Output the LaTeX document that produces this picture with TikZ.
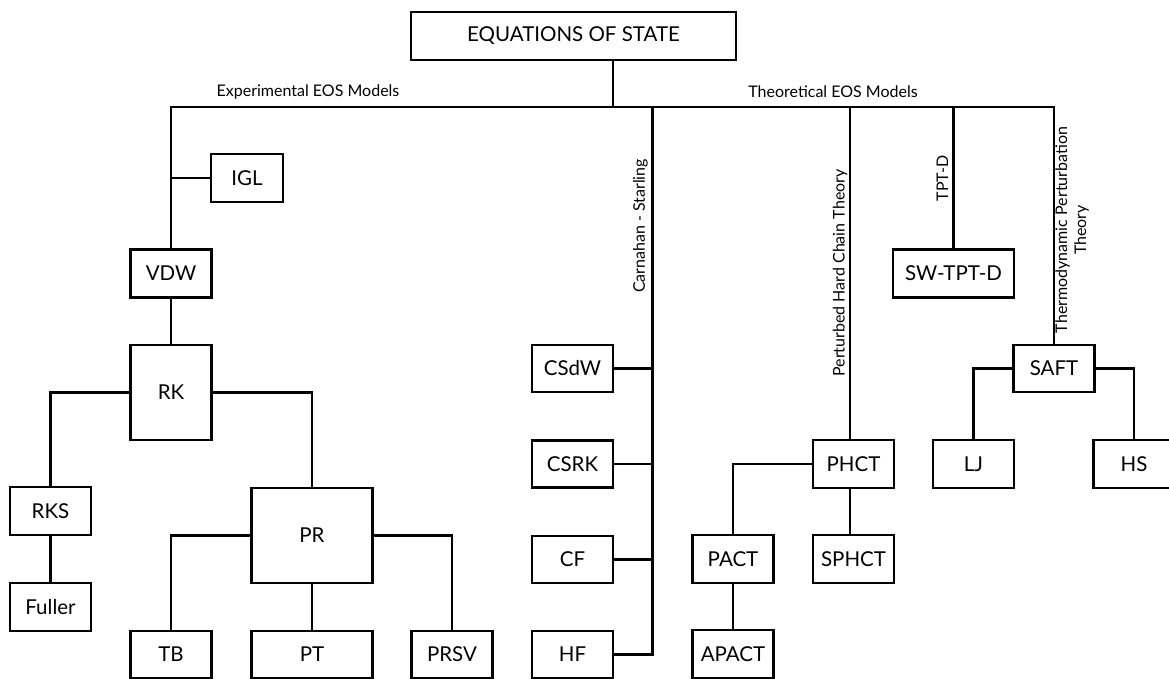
\documentclass[tikz,border=0pt]{standalone}
\usepackage{fontspec}
\setmainfont{Lato}
\begin{document}
\begin{tikzpicture}[x=1pt,y=-1pt,
  lw/.style={line width=2.6pt},
  box/.style={draw,lw,rectangle,inner sep=0pt,minimum height=47pt,minimum width=81pt,font=\fontsize{20.5}{24}\selectfont},
  tall/.style={minimum height=95pt},
  wide/.style={minimum width=121pt},
  lab/.style={inner sep=0pt,font=\fontsize{16}{19}\selectfont},
  conn/.style={lw}]
\useasboundingbox (0,0) rectangle (1169,679);
% nodes
\node[box,minimum width=325pt,minimum height=48pt] (top) at (573.5,36) {EQUATIONS OF STATE};
\node[box,minimum width=72pt,minimum height=48pt] (IGL) at (247,178) {IGL};
\node[box,minimum height=48pt] (VDW) at (171,273.5) {VDW};
\node[box,tall] (RK) at (171,392.5) {RK};
\node[box,minimum height=48pt] (RKS) at (50.5,511) {RKS};
\node[box,minimum height=48pt] (Fuller) at (50.5,607) {Fuller};
\node[box,tall,wide] (PR) at (312,535.5) {PR};
\node[box] (TB) at (171,654.5) {TB};
\node[box,wide] (PT) at (312,654.5) {PT};
\node[box] (PRSV) at (452,654.5) {PRSV};
\node[box] (CSdW) at (572.5,368.5) {CSdW};
\node[box] (CSRK) at (572.5,464) {CSRK};
\node[box] (CF) at (572.5,559.5) {CF};
\node[box] (HF) at (572.5,654.5) {HF};
\node[box,minimum height=48pt] (PHCT) at (853.5,464) {PHCT};
\node[box,minimum height=48pt] (PACT) at (733,559) {PACT};
\node[box,minimum height=48pt] (APACT) at (733,654) {APACT};
\node[box,minimum height=48pt] (SPHCT) at (853.5,559) {SPHCT};
\node[box,wide,minimum height=48pt] (SW) at (953.5,273.5) {SW-TPT-D};
\node[box] (SAFT) at (1054,368.5) {SAFT};
\node[box,minimum height=48pt] (LJ) at (973.5,464) {LJ};
\node[box,minimum height=48pt] (HS) at (1134,464) {HS};
% coordinates
\coordinate (stem) at (613,107);
\coordinate (busR) at (1054,107);
\coordinate (cs) at (652.5,107);
\coordinate (ph) at (850,107);
% labels
\node[lab] (exp) at (308,92) {Experimental EOS Models};
\node[lab] (theo) at (833,92) {Theoretical EOS Models};
\node[lab,rotate=90] (carn) at (640.5,226) {Carnahan - Starling};
\node[lab,rotate=90] (pert) at (840,273) {Perturbed Hard Chain Theory};
\node[lab,rotate=90] (tptd) at (942.5,178.5) {TPT-D};
\node[lab,rotate=90,align=center] (thermo) at (1072,230) {Thermodynamic Perturbation\\Theory};
% connectors
\draw[conn] (stem |- top.south) -- (stem);
\draw[conn] (VDW.north) |- (busR) -- (SAFT.north);
\draw[conn] (IGL.west) -- (IGL.west -| VDW.north);
\draw[conn] (VDW.south) -- (RK.north);
\draw[conn] (RK.west) -| (RKS.north);
\draw[conn] (RKS.south) -- (Fuller.north);
\draw[conn] (RK.east) -| (PR.north);
\draw[conn] (PR.west) -| (TB.north);
\draw[conn] (PR.south) -- (PT.north);
\draw[conn] (PR.east) -| (PRSV.north);
\draw[conn] (cs) |- (HF.east);
\draw[conn] (CSdW.east) -- (CSdW.east -| cs);
\draw[conn] (CSRK.east) -- (CSRK.east -| cs);
\draw[conn] (CF.east) -- (CF.east -| cs);
\draw[conn] (ph) -- (ph |- PHCT.north);
\draw[conn] (PHCT.west) -| (PACT.north);
\draw[conn] (PACT.south) -- (APACT.north);
\draw[conn] (ph |- PHCT.south) -- (ph |- SPHCT.north);
\draw[conn] (SW.north |- busR) -- (SW.north);
\draw[conn] (SAFT.west) -| (LJ.north);
\draw[conn] (SAFT.east) -| (HS.north);
\end{tikzpicture}
\end{document}
